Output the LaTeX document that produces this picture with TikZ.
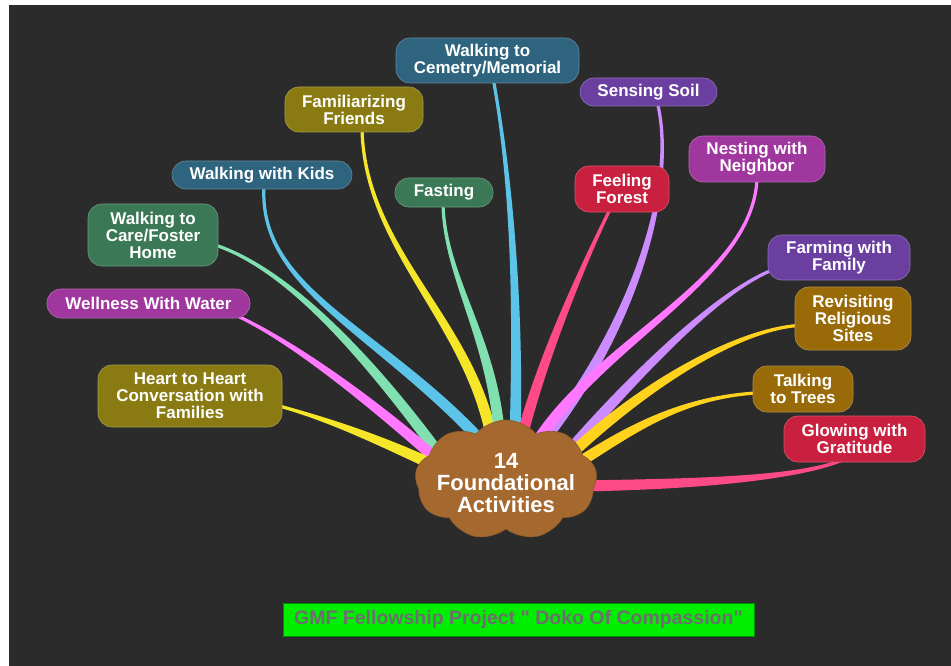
\documentclass[tikz,border=0pt]{standalone}
\usepackage{fontspec}
\setmainfont{Liberation Sans}
\usetikzlibrary{calc,shapes.symbols}
\pgfdeclarelayer{bg}
\pgfsetlayers{bg,main}
\definecolor{bgc}{HTML}{2B2B2B}
\definecolor{bluebox}{HTML}{2E647E}
\definecolor{olivebox}{HTML}{8A7A12}
\definecolor{purplebox}{HTML}{6B3FA0}
\definecolor{greenbox}{HTML}{3B7856}
\definecolor{crimsonbox}{HTML}{C8203E}
\definecolor{magentabox}{HTML}{A0379E}
\definecolor{goldbox}{HTML}{996A08}
\definecolor{cloudc}{HTML}{A5692F}
\definecolor{lblue}{HTML}{5BC4E8}
\definecolor{lyellow}{HTML}{F5E62A}
\definecolor{llav}{HTML}{CC8CFF}
\definecolor{lmint}{HTML}{80E0B0}
\definecolor{lred}{HTML}{FF4A88}
\definecolor{lpink}{HTML}{FF78FF}
\definecolor{lgold}{HTML}{FFD21E}
\definecolor{bannerc}{HTML}{00EE00}
\definecolor{bannertext}{HTML}{6E6E6E}
\newcommand\taperconn[5]{%
  \path #2 coordinate (p0) #3 coordinate (p1) #4 coordinate (p2) #5 coordinate (p3);
  \path ($(p0)!1.6pt!90:(p1)$) coordinate (a0) ($(p0)!1.6pt!-90:(p1)$) coordinate (b0)
        ($(p3)!5.5pt!-90:(p2)$) coordinate (a3) ($(p3)!5.5pt!90:(p2)$) coordinate (b3);
  \path ($(p1)+(a0)-(p0)$) coordinate (a1) ($(p2)+(a3)-(p3)$) coordinate (a2)
        ($(p1)+(b0)-(p0)$) coordinate (b1) ($(p2)+(b3)-(p3)$) coordinate (b2);
  \fill[#1] (a0) .. controls (a1) and (a2) .. (a3) -- (b3) .. controls (b2) and (b1) .. (b0) -- cycle;
}
\begin{document}
\begin{tikzpicture}[x=1pt,y=-1pt,
  box/.style={rounded corners=14pt, inner sep=0pt, align=center, text=white,
    font=\bfseries\fontsize{17}{17}\selectfont, draw=#1!75!white, line width=0.6pt, fill=#1},
  banner/.style={fill=bannerc, draw=bannerc!60!black, line width=0.6pt, inner sep=0pt,
    minimum width=471pt, minimum height=33pt, text=bannertext, font=\bfseries\fontsize{19.5}{21}\selectfont}]
\useasboundingbox (0,0) rectangle (951,666);
\begin{pgfonlayer}{bg}
\fill[white] (0,0) rectangle (951,666);
\fill[bgc] (9,5) rectangle (951,666);
\end{pgfonlayer}

\node[box=bluebox, minimum width=183pt, minimum height=45pt] (cem) at (487.5,60.5) {Walking to\\Cemetry/Memorial};
\node[box=olivebox, minimum width=138pt, minimum height=45pt] (fam) at (354,109.5) {Familiarizing\\Friends};
\node[box=purplebox, minimum width=137pt, minimum height=28pt] (soil) at (648.5,92) {Sensing Soil};
\node[box=bluebox, minimum width=180pt, minimum height=28pt] (kids) at (262,175) {Walking with Kids};
\node[box=greenbox, minimum width=98pt, minimum height=29pt] (fast) at (444,192.5) {Fasting};
\node[box=crimsonbox, minimum width=94pt, minimum height=46pt] (forest) at (622,189) {Feeling\\Forest};
\node[box=magentabox, minimum width=136pt, minimum height=46pt] (nest) at (757,159) {Nesting with\\Neighbor};
\node[box=greenbox, minimum width=130pt, minimum height=62pt] (care) at (153,235) {Walking to\\Care/Foster\\Home};
\node[box=purplebox, minimum width=142pt, minimum height=45pt] (farm) at (839,257.5) {Farming with\\Family};
\node[box=magentabox, minimum width=203pt, minimum height=29pt] (well) at (148.5,303.5) {Wellness With Water};
\node[box=goldbox, minimum width=116pt, minimum height=63pt] (relig) at (853,318.5) {Revisiting\\Religious\\Sites};
\node[box=olivebox, minimum width=184pt, minimum height=62pt] (heart) at (190,396) {Heart to Heart\\Conversation with\\Families};
\node[box=goldbox, minimum width=100pt, minimum height=46pt] (trees) at (803,389) {Talking\\to Trees};
\node[box=crimsonbox, minimum width=141pt, minimum height=46pt] (grat) at (854.5,439) {Glowing with\\Gratitude};

\node[cloud, cloud puffs=9, cloud puff arc=100, cloud ignores aspect, minimum width=182pt, minimum height=120pt,
  fill=cloudc, draw=cloudc!85!black, line width=0.6pt, inner sep=0pt] (center) at (506,480) {};
\node[align=center, text=white, inner sep=0pt, font=\bfseries\fontsize{22}{22}\selectfont]
  (centerlabel) at (506,483) {14\\Foundational\\Activities};

\node[banner] (ban) at (518.5,619.5) {GMF Fellowship Project \textquotedbl{} Doko Of Compassion\textquotedbl};

\begin{pgfonlayer}{bg}
\taperconn{lblue}{($(cem.south)+(6,-3)$)}{(515,200)}{(518,330)}{($(center.center)+(9,-40)$)}
\taperconn{lyellow}{($(fam.south)+(8,-3)$)}{(365,250)}{(470,320)}{($(center.center)+(-14,-40)$)}
\taperconn{llav}{($(soil.south)+(9,-3)$)}{(676,180)}{(640,320)}{($(center.center)+(34,-35)$)}
\taperconn{lblue}{($(kids.south)+(2,-3)$)}{(258,290)}{(380,330)}{($(center.center)+(-21,-35)$)}
\taperconn{lmint}{($(fast.south)+(-1,-3)$)}{(445,280)}{(495,340)}{($(center.center)+(-6,-35)$)}
\taperconn{lred}{($(forest.south)+(-12,-3)$)}{(590,250)}{(540,360)}{($(center.center)+(14,-35)$)}
\taperconn{lpink}{($(nest.south)+(0,-3)$)}{(752,280)}{(600,340)}{($(center.center)+(29,-35)$)}
\taperconn{lmint}{($(care.east)+(-3,10)$)}{(290,270)}{(370,360)}{($(center.center)+(-66,-25)$)}
\taperconn{llav}{($(farm.west)+(6,12)$)}{(720,290)}{(640,370)}{($(center.center)+(64,-30)$)}
\taperconn{lpink}{($(well.east)+(-14,12)$)}{(290,340)}{(370,400)}{($(center.center)+(-66,-18)$)}
\taperconn{lgold}{($(relig.west)+(3,7)$)}{(740,330)}{(650,380)}{($(center.center)+(64,-25)$)}
\taperconn{lyellow}{($(heart.east)+(-3,10)$)}{(330,420)}{(380,440)}{($(center.center)+(-66,-12)$)}
\taperconn{lgold}{($(trees.west)+(3,4)$)}{(680,398)}{(630,430)}{($(center.center)+(69,-15)$)}
\taperconn{lred}{($(grat.south)+(-10,-3)$)}{(800,478)}{(700,484)}{($(center.center)+(74,6)$)}
\end{pgfonlayer}
\end{tikzpicture}
\end{document}
